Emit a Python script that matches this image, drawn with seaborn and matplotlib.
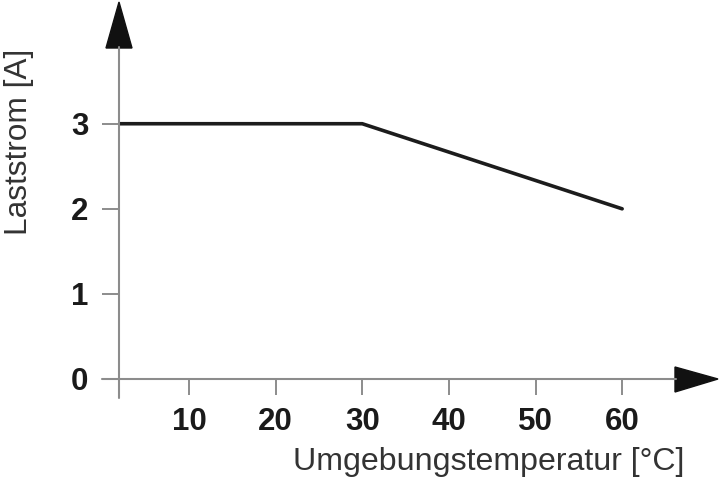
import matplotlib
matplotlib.use("Agg")
import matplotlib.pyplot as plt
from matplotlib.lines import Line2D
from matplotlib.patches import Polygon
import seaborn as sns
import pandas as pd

# data
temperature = [0, 30, 60]
current = [3, 3, 2]
x_ticks = [10, 20, 30, 40, 50, 60]
y_ticks = [0, 1, 2, 3]
x_label = "Umgebungstemperatur [°C]"
y_label = "Laststrom [A]"

df = pd.DataFrame({"T": temperature, "I": current})

sns.set_theme(style="white")
plt.rcParams["font.family"] = ["Liberation Sans", "DejaVu Sans"]

W, H = 720, 484
fig = plt.figure(figsize=(W / 100, H / 100), dpi=100)
ax = fig.add_axes([119 / W, 105 / H, (675 - 119) / W, (379 - 48) / H])

sns.lineplot(data=df, x="T", y="I", ax=ax, color="#1c1c1c", linewidth=2.6)

ax.set_xlim(1.92, 66.1)
ax.set_ylim(0, 3.89)
for s in ax.spines.values():
    s.set_visible(False)

ax.set_xticks(x_ticks)
ax.set_yticks(y_ticks)
ax.tick_params(axis="both", which="both", direction="out", colors="#8c8c8c",
               labelcolor="#1a1a1a", width=1.4, labelsize=22.5)
ax.tick_params(axis="x", length=11.5, pad=9, bottom=True)
ax.tick_params(axis="y", length=12.5, pad=9.5, left=True)
for lab in ax.get_xticklabels() + ax.get_yticklabels():
    lab.set_fontweight("bold")
ax.set_xlabel("")
ax.set_ylabel("")

axis_col = "#8c8c8c"


def px(x, y):
    return (x / W, 1 - y / H)


# axis lines with overhang past the origin
fig.add_artist(Line2D([102 / W, 676 / W], [1 - 379 / H, 1 - 379 / H],
                      color=axis_col, linewidth=1.5))
fig.add_artist(Line2D([119 / W, 119 / W], [1 - 398 / H, 1 - 47 / H],
                      color=axis_col, linewidth=1.5))
# arrow heads
fig.add_artist(Polygon([px(106, 48), px(132, 48), px(119, 2)], closed=True,
                       transform=fig.transFigure, color="#111111"))
fig.add_artist(Polygon([px(675, 367), px(675, 392), px(718, 379)], closed=True,
                       transform=fig.transFigure, color="#111111"))

fig.text(489 / W, 1 - 462 / H, x_label, ha="center", va="center",
         fontsize=23.1, color="#333333")
fig.text(19 / W, 1 - 142 / H, y_label, ha="center", va="center",
         rotation=90, fontsize=22.8, color="#333333")

fig.savefig("out.png", dpi=100)
